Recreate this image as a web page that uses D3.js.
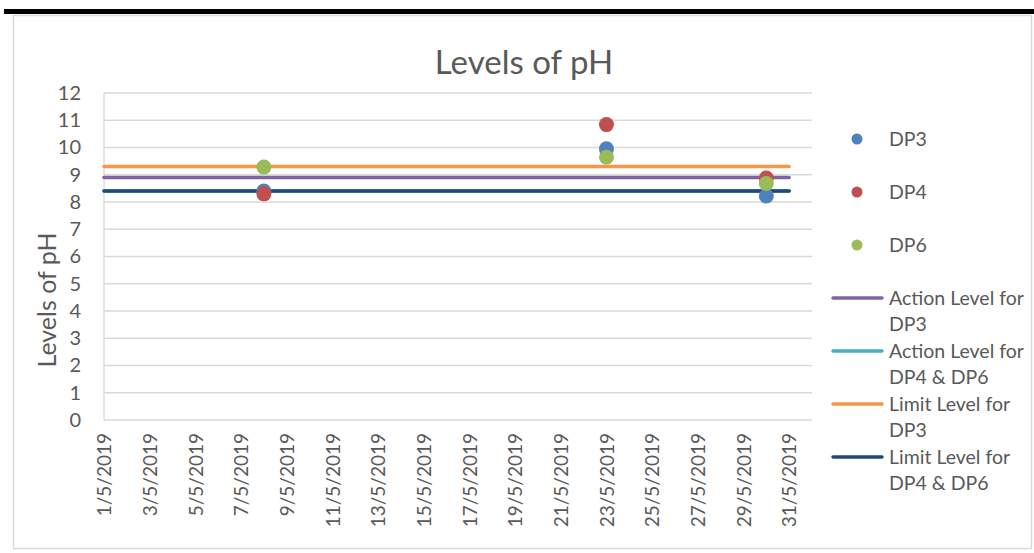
<!DOCTYPE html>
<html>
<head>
<meta charset="utf-8">
<script src="https://cdn.jsdelivr.net/npm/d3@7"></script>
<style>
  body { margin: 0; background: #fff; }
  svg { display: block; font-family: Lato, "Open Sans", sans-serif; }
</style>
</head>
<body>
<svg id="chart" width="1034" height="553"></svg>
<script>
// sample dates and readings
var sampleDates = ['2019-05-08', '2019-05-23', '2019-05-30'];
var dp3 = [8.4, 9.95, 8.22];
var dp4 = [8.3, 10.84, 8.88];
var dp6 = [9.28, 9.64, 8.68];

// level lines, drawn across the month
var levelDates = ['2019-05-01', '2019-05-31'];
var actionDP3 = [8.9, 8.9];
var actionDP46 = [8.4, 8.4];
var limitDP3 = [9.3, 9.3];
var limitDP46 = [8.4, 8.4];

var yTicks = [0, 1, 2, 3, 4, 5, 6, 7, 8, 9, 10, 11, 12];
var xTickLabels = ['1/5/2019', '3/5/2019', '5/5/2019', '7/5/2019', '9/5/2019', '11/5/2019',
    '13/5/2019', '15/5/2019', '17/5/2019', '19/5/2019', '21/5/2019', '23/5/2019',
    '25/5/2019', '27/5/2019', '29/5/2019', '31/5/2019'];

var pointSeries = [
    {name: 'DP3', values: dp3, color: '#4f81bd'},
    {name: 'DP4', values: dp4, color: '#c0504d'},
    {name: 'DP6', values: dp6, color: '#9bbb59'}
];
var lineSeries = [
    {name: ['Action Level for', 'DP3'], values: actionDP3, color: '#8064a2'},
    {name: ['Action Level for', 'DP4 & DP6'], values: actionDP46, color: '#4bacc6'},
    {name: ['Limit Level for', 'DP3'], values: limitDP3, color: '#f79646'},
    {name: ['Limit Level for', 'DP4 & DP6'], values: limitDP46, color: '#1f497d'}
];

var parseDate = d3.utcParse('%Y-%m-%d');
var parseLabel = d3.utcParse('%d/%m/%Y');
var fmt = d3.utcFormat('%-d/%-m/%Y');

var svg = d3.select('#chart');

// top black rule and chart frame
svg.append('rect').attr('x', 4).attr('y', 9).attr('width', 1030).attr('height', 5).attr('fill', '#000');
svg.append('rect').attr('x', 13.5).attr('y', 15.5).attr('width', 1018).attr('height', 533)
    .attr('fill', '#fff').attr('stroke', '#d9d9d9').attr('stroke-width', 1.5);

var x = d3.scaleUtc()
    .domain([parseDate('2019-05-01'), parseDate('2019-06-01')])
    .range([104, 812]);
var y = d3.scaleLinear().domain([0, 12]).range([420, 93]);

// horizontal gridlines
svg.append('g').selectAll('line')
    .data(yTicks)
    .enter()
    .append('line')
    .attr('x1', 104).attr('x2', 812)
    .attr('y1', (d) => y(d)).attr('y2', (d) => y(d))
    .attr('stroke', '#d9d9d9').attr('stroke-width', 1.3);

svg.append('line').attr('x1', 104).attr('x2', 104).attr('y1', y(12)).attr('y2', y(0))
    .attr('stroke', '#d9d9d9').attr('stroke-width', 1.3);

var yAxis = svg.append('g')
    .attr('transform', 'translate(104,0)')
    .call(d3.axisLeft(y).tickValues(yTicks).tickSize(0).tickPadding(23));
yAxis.select('.domain').remove();
yAxis.selectAll('text').attr('font-size', 20).attr('fill', '#595959')
    .attr('font-family', 'Lato, sans-serif');

var xAxis = svg.append('g')
    .attr('transform', 'translate(0,420)')
    .call(d3.axisBottom(x).tickValues(xTickLabels.map(parseLabel)).tickFormat(fmt).tickSize(0));
xAxis.select('.domain').remove();
xAxis.selectAll('text')
    .attr('font-size', 19).attr('fill', '#595959').attr('font-family', 'Lato, sans-serif')
    .attr('transform', 'rotate(-90)')
    .attr('text-anchor', 'end')
    .attr('x', -13).attr('y', 0).attr('dy', '0.35em');

// level lines
var line = d3.line()
    .x((d, i) => x(parseDate(levelDates[i])))
    .y((d) => y(d));
lineSeries.forEach((s) => {
    svg.append('path')
        .attr('d', line(s.values))
        .attr('fill', 'none')
        .attr('stroke', s.color)
        .attr('stroke-width', 3.5)
        .attr('stroke-linecap', 'round');
});

// sample points
pointSeries.forEach((s) => {
    svg.append('g').selectAll('circle')
        .data(s.values)
        .enter()
        .append('circle')
        .attr('cx', (d, i) => x(parseDate(sampleDates[i])))
        .attr('cy', (d) => y(d))
        .attr('r', 7.5)
        .attr('fill', s.color);
});

// title
svg.append('text').attr('x', 524).attr('y', 74).attr('text-anchor', 'middle')
    .attr('font-size', 33).attr('fill', '#595959').text('Levels of pH');

svg.append('text')
    .attr('transform', 'translate(56,300) rotate(-90)')
    .attr('text-anchor', 'middle')
    .attr('font-size', 25).attr('fill', '#595959').text('Levels of pH');

// legend
var legend = svg.append('g');
pointSeries.forEach((s, i) => {
    var ly = 139 + i * 53;
    legend.append('circle').attr('cx', 857).attr('cy', ly).attr('r', 5.5).attr('fill', s.color);
    legend.append('text').attr('x', 889).attr('y', ly).attr('dy', '0.35em')
        .attr('font-size', 19.5).attr('fill', '#595959').text(s.name);
});
lineSeries.forEach((s, i) => {
    var ly = 298 + i * 53;
    legend.append('line').attr('x1', 833).attr('x2', 882).attr('y1', ly).attr('y2', ly)
        .attr('stroke', s.color).attr('stroke-width', 3.5).attr('stroke-linecap', 'round');
    s.name.forEach((t, j) => {
        legend.append('text').attr('x', 889).attr('y', ly + j * 26.5).attr('dy', '0.35em')
            .attr('font-size', 19.5).attr('fill', '#595959').text(t);
    });
});
</script>
</body>
</html>
